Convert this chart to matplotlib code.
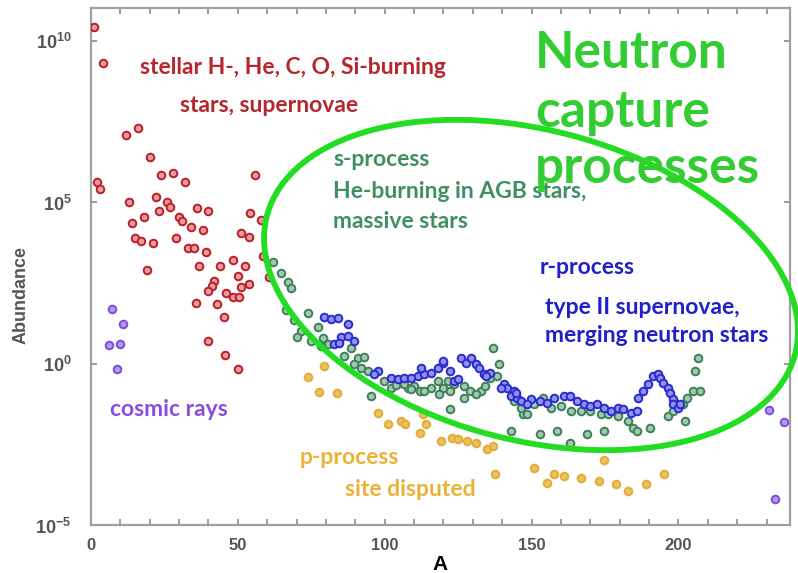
import matplotlib

matplotlib.use("Agg")
import matplotlib.pyplot as plt
import numpy as np
from matplotlib.patches import Ellipse
from matplotlib.ticker import FixedLocator, MultipleLocator, NullLocator

plt.rcParams.update({
    "font.family": ["Lato", "DejaVu Sans"],
    "mathtext.fontset": "custom",
    "mathtext.rm": "Liberation Sans",
    "mathtext.bf": "Liberation Sans:bold",
})

# mass number A and log10(abundance)
stellar_A = [1, 4, 2, 3, 12, 16, 20, 24, 28, 32, 56, 13, 22, 26, 27, 23, 30, 31, 18, 14,
             36, 40, 34, 38, 15, 17, 21, 29, 33, 35, 39, 54, 58, 51, 53.7, 19, 36.7, 44,
             48.3, 52.4, 58.5, 41.8, 41.2, 39.8, 50, 53.7, 51, 45.9, 48.3, 50.3, 35.7, 42.9,
             45.2, 39.8, 45.6, 50, 60.5]
stellar_log = [10.43, 9.32, 5.62, 5.4, 7.08, 7.3, 6.4, 5.84, 5.9, 5.62, 5.84, 5.0, 5.15,
               5.0, 4.85, 4.72, 4.53, 4.41, 4.53, 4.35, 4.81, 4.72, 4.22, 4.13, 3.88, 3.79,
               3.73, 3.9, 3.57, 3.57, 3.45, 4.66, 4.44, 4.04, 3.91, 2.89, 3.04, 3.04, 3.2,
               3.04, 3.35, 2.55, 2.42, 2.24, 2.73, 2.48, 2.39, 2.2, 2.05, 2.05, 1.89, 1.86,
               1.46, 0.71, 0.28, -0.16, 2.67]

cosmic_A = [6, 7, 9, 10, 11, 231, 236, 233]
cosmic_log = [0.59, 1.68, -0.16, 0.62, 1.24, -1.45, -1.8, -4.2]

p_A = [73.8, 79.3, 77.6, 83.7, 97.6, 101, 105.4, 107, 113, 114, 112, 119, 123, 125, 128,
       131, 135, 137, 137.5, 150.7, 155.4, 157.5, 161, 166.7, 172.8, 174.5, 178.6, 183,
       188.8, 195]
p_log = [-0.4, -0.06, -0.87, -0.9, -1.52, -1.86, -1.77, -1.86, -1.55, -1.86, -2.14, -2.39,
         -2.3, -2.33, -2.39, -2.45, -2.64, -2.55, -3.42, -3.23, -3.7, -3.42, -3.48, -3.54,
         -3.63, -3.0, -3.73, -3.94, -3.73, -3.42]

s_A = [62, 64.6, 67, 68, 66.3, 69, 73.8, 71.4, 70, 77.2, 74.8, 78.9, 80.6, 78.2, 86, 88.4,
       90.8, 92.9, 89.5, 91.8, 94.2, 95.2, 99.7, 102, 106, 107.8, 110, 112, 115.6, 118, 120,
       122.4, 122.4, 126.9, 129, 132.7, 137, 138.8, 136, 138.4, 127, 150.7, 154, 147, 142.9,
       153, 158.8, 163, 169, 174.5, 143.9, 146.3, 148.6, 156.5, 160, 163.5, 166.7, 170,
       173.5, 175.9, 179.3, 182.7, 184.7, 186, 190.5, 196.3, 198.3, 201.7, 203, 205, 207.5,
       202.4, 205.5, 206.8, 106.5, 108.8, 113.3, 118.5, 121.4, 123.5, 104, 131, 134]
s_log = [3.14, 2.8, 2.52, 2.33, 1.65, 1.34, 1.58, 1.02, 0.84, 1.12, 0.71, 0.78, 0.62, 0.56,
         0.25, 0.5, 0.19, 0.22, 0.0, -0.12, -0.22, -0.99, -0.53, -0.75, -0.59, -0.75, -0.68,
         -0.84, -0.75, -0.53, -0.75, -0.84, -1.4, -0.68, -0.84, -0.84, 0.47, 0.0, -0.43,
         -0.37, -1.06, -1.24, -1.06, -1.55, -2.08, -2.17, -2.08, -2.45, -2.17, -2.08, -1.15,
         -1.37, -1.55, -1.37, -1.3, -1.46, -1.46, -1.46, -1.55, -1.55, -1.61, -1.77, -1.99,
         -2.08, -1.99, -1.61, -1.46, -1.24, -1.06, -0.84, -0.84, -1.77, -0.22, 0.19, -0.62,
         -0.78, -0.84, -0.93, -0.53, -0.62, -0.65, -0.95, -0.7]

r_A = [79.3, 81.6, 84, 87.4, 85, 87.4, 89.5, 82.7, 84.4, 97.6, 96.3, 102, 104.4, 106.5,
       108.8, 111.2, 113.3, 115.6, 118, 119.7, 122.4, 123.5, 125.9, 127.6, 129.3, 131, 132,
       133.7, 136, 140.5, 141.8, 143.9, 142.9, 145.2, 149.7, 153, 155.4, 112.2, 120, 124.8,
       134.4, 139.5, 144.6, 146.3, 148.6, 157.5, 161, 163, 165.6, 167.7, 170, 172.4, 174.5,
       176.9, 179.3, 181.3, 183.7, 186, 186.4, 188.1, 189.8, 191.5, 192.9, 193.9, 194.9,
       196.3, 197.3, 198, 198.3, 199.7, 200.7]
r_log = [1.43, 1.37, 1.4, 1.24, 0.81, 0.87, 0.71, 0.62, 0.65, -0.22, -0.31, -0.43, -0.47,
         -0.43, -0.43, -0.37, -0.31, -0.28, -0.12, 0.03, -0.22, -0.53, 0.16, 0.03, 0.19, 0.0,
         -0.12, -0.31, -0.28, -0.62, -0.75, -0.84, -0.99, -1.06, -1.09, -1.15, -1.21, -0.12,
         0.09, -0.47, -0.37, -0.75, -0.9, -1.15, -1.24, -1.06, -0.99, -0.99, -1.15, -1.24,
         -1.3, -1.24, -1.37, -1.46, -1.37, -1.4, -1.52, -1.46, -1.06, -0.84, -0.62, -0.37,
         -0.31, -0.43, -0.59, -0.75, -0.9, -1.09, -1.24, -1.37, -1.24]

y_ticks = [1e-5, 1e0, 1e5, 1e10]
y_ticklabels = [r"$\mathbf{10^{-5}}$", r"$\mathbf{10^{0}}$", r"$\mathbf{10^{5}}$",
                r"$\mathbf{10^{10}}$"]

W, H = 798, 573


def at(x, y):
    # reference pixel position -> figure fraction
    return x / W, 1 - y / H


fig = plt.figure(figsize=(W / 100, H / 100), dpi=100)
ax = fig.add_axes([91 / W, 1 - 525 / H, 699 / W, 517 / H])
ax.set_yscale("log")

groups = [
    (stellar_A, stellar_log, "#e99a9a", "#b8202e"),
    (cosmic_A, cosmic_log, "#b896f0", "#7a4fd8"),
    (p_A, p_log, "#edc25a", "#e0ac3a"),
    (s_A, s_log, "#a3c8b0", "#3e805a"),
    (r_A, r_log, "#9090f0", "#2a2ad0"),
]
for A, lg, face, edge in groups:
    ax.scatter(A, np.power(10.0, lg), s=30, facecolor=face, edgecolor=edge,
               linewidth=1.4, zorder=3)

ax.set_xlim(0, 238)
ax.set_ylim(1e-5, 10 ** 11.02)
ax.xaxis.set_major_locator(MultipleLocator(50))
ax.xaxis.set_minor_locator(MultipleLocator(10))
ax.yaxis.set_major_locator(FixedLocator(y_ticks))
ax.yaxis.set_minor_locator(NullLocator())
ax.set_yticklabels(y_ticklabels)
ax.tick_params(which="both", direction="in", top=True, right=True, length=4,
               width=1.2, color="#8a8a8a", labelcolor="#555555")
ax.tick_params(axis="x", pad=9, labelsize=12)
ax.tick_params(axis="y", pad=14, labelsize=13)
for lab in ax.get_xticklabels():
    lab.set_fontfamily("Liberation Sans")
    lab.set_fontweight("bold")
for sp in ax.spines.values():
    sp.set_color("#a0a0a0")
    sp.set_linewidth(1.6)

ax.set_xlabel("A", fontsize=15, fontweight="bold", family="Liberation Sans",
              labelpad=2)
ax.set_ylabel("Abundance", fontsize=13, fontweight="bold", family="Liberation Sans",
              color="#555555")
ax.yaxis.set_label_coords(-0.088, 0.445)

# green ellipse around the neutron-capture region (inches, y up)
fig.add_artist(Ellipse((531 / 100, (H - 285) / 100), 5.46, 3.10, angle=-14.7,
                       transform=fig.dpi_scale_trans, fill=False,
                       edgecolor="#22dd22", linewidth=4.2, zorder=5))

labels = [
    ("stellar H-, He, C, O, Si-burning", 140, 68, "#b5262e", 16.5),
    ("stars, supernovae", 180, 105, "#b5262e", 16.5),
    ("s-process", 333, 160, "#3f8f63", 16.5),
    ("He-burning in AGB stars,", 333, 192, "#3f8f63", 16.5),
    ("massive stars", 333, 221, "#3f8f63", 16.5),
    ("r-process", 540, 268, "#2020c8", 16.5),
    ("type II supernovae,", 545, 307, "#2020c8", 16.5),
    ("merging neutron stars", 545, 335, "#2020c8", 16.5),
    ("cosmic rays", 110, 410, "#8a4de0", 16.5),
    ("p-process", 300, 457, "#eab336", 16.5),
    ("site disputed", 345, 490, "#eab336", 16.5),
    ("Neutron", 535, 53, "#33cc33", 37),
    ("capture", 535, 112, "#33cc33", 37),
    ("processes", 535, 168, "#33cc33", 37),
]
for txt, x, y, col, size in labels:
    fig.text(*at(x, y), txt, color=col, fontsize=size, fontweight="bold",
             ha="left", va="center", zorder=6)

fig.savefig("out.png", dpi=100)
